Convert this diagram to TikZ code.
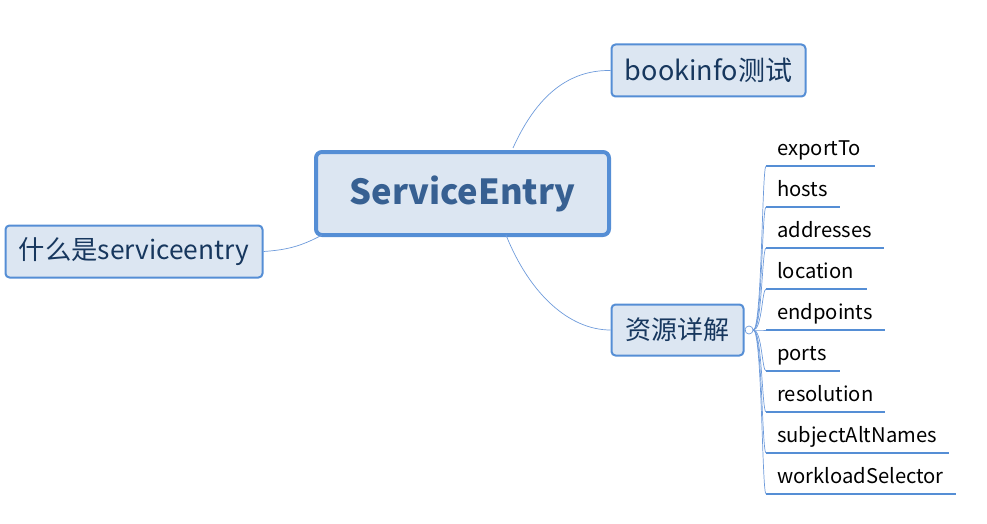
\documentclass[tikz,border=0pt]{standalone}
\usepackage{fontspec}
\setmainfont{Noto Sans CJK SC}
\definecolor{bdr}{HTML}{558ED5}
\definecolor{fil}{HTML}{DCE6F2}
\definecolor{txt}{HTML}{17375E}
\definecolor{ctxt}{HTML}{376092}
\definecolor{lnk}{HTML}{6E9BDB}
\begin{document}
\begin{tikzpicture}[x=1pt,y=-1pt,
  topic/.style={draw=bdr,fill=fil,line width=2pt,rounded corners=4pt,text=txt,inner sep=0pt,anchor=north west},
  root/.style={draw=bdr,fill=fil,line width=4pt,rounded corners=6pt,text=ctxt,font=\bfseries\fontsize{34.5}{38}\selectfont,inner sep=0pt,anchor=north west},
  leaf/.style={font=\fontsize{20.2}{24}\selectfont,anchor=base west,inner sep=0pt,text=black},
  uline/.style={draw=bdr,line width=2.2pt},
  link/.style={draw=lnk,line width=0.7pt}]
\useasboundingbox (0,0) rectangle (987,524);
\node[root,minimum width=293pt,minimum height=83pt] (se) at (314,150) {ServiceEntry};
\node[topic,font=\fontsize{27}{30}\selectfont,minimum width=194pt,minimum height=52pt] (bk) at (610.5,43.5) {bookinfo测试};
\node[topic,font=\fontsize{26.3}{30}\selectfont,minimum width=257pt,minimum height=52pt] (wh) at (4.5,224.5) {什么是serviceentry};
\node[topic,font=\fontsize{26}{30}\selectfont,minimum width=132pt,minimum height=51pt] (zy) at (610.5,303.5) {资源详解};
\node[draw=lnk,line width=0.7pt,circle,minimum size=8pt,inner sep=0pt] (cc) at (749,330) {};
\draw[link] (zy.east) -- (cc.west);
% main links
\coordinate (seT) at (513,148);
\coordinate (seB) at (506,235);
\coordinate (seL) at (322,235);
\draw[link] (seT) .. controls (540,88) and (575,70) .. (bk.west);
\draw[link] (seB) .. controls (530,295) and (570,330) .. (zy.west);
\draw[link] (seL) .. controls (300,247) and (285,250) .. (wh.east);
% leaves
\foreach \n/\t/\e [count=\i from 0] in {l1/exportTo/875,l2/hosts/840,l3/addresses/884,l4/location/867,l5/endpoints/885,l6/ports/840,l7/resolution/885,l8/subjectAltNames/949,l9/workloadSelector/956}{
  \pgfmathsetmacro{\yy}{166+41*\i}
  \coordinate (\n s) at (766,\yy);
  \coordinate (\n e) at (\e,\yy);
  \node[leaf] (\n) at (777,\yy-11) {\t};
  \draw[uline] (\n s) -- (\n e);
  \draw[link] (cc.east) .. controls (762,330) and (762,\yy) .. (\n s);
}
\end{tikzpicture}
\end{document}
